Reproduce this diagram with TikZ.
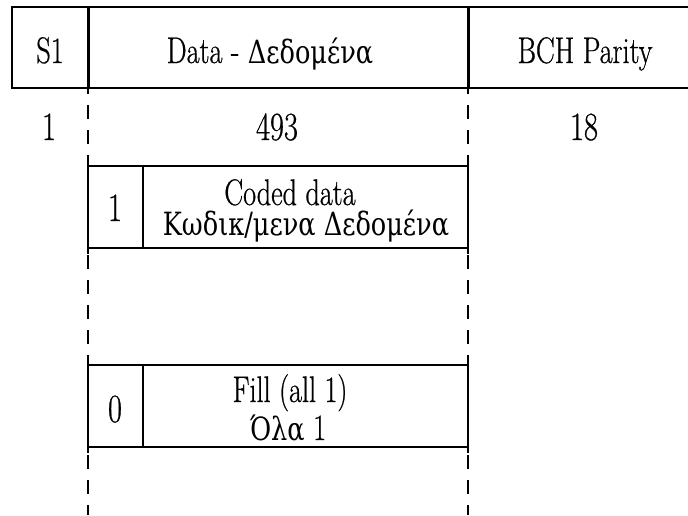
\documentclass[tikz,border=0pt]{standalone}
\usepackage{fontspec}
\setmainfont{Latin Modern Roman}[FakeStretch=0.76, FakeBold=0.6]
\newfontfamily\greekfont{DejaVu Serif}[FakeStretch=0.8]

\tikzset{
  cell/.style={draw, line width=2pt, inner sep=0pt, outer sep=0pt, anchor=north west},
  divider/.style={line width=3pt},
  side/.style={line width=2pt},
  dashline/.style={line width=2pt, dash pattern=on 14pt off 11pt, dash phase=8pt},
  lbl/.style={inner sep=0pt, anchor=base, font=\fontsize{37}{37}\selectfont},
  num/.style={inner sep=0pt, anchor=base, font=\fontsize{40}{40}\selectfont},
  gr/.style={font=\fontsize{32}{32}\selectfont\greekfont}
}

\begin{document}
\begin{tikzpicture}[x=1pt, y=-1pt]
\useasboundingbox (0,0) rectangle (688,515);

% frame header
\node[cell, minimum width=76pt,  minimum height=81pt] (s1)   at (12,7)  {};
\node[cell, minimum width=380pt, minimum height=81pt] (data) at (88,7)  {};
\node[cell, minimum width=226pt, minimum height=81pt] (bch)  at (468,7) {};
\draw[divider] (data.north west) -- (data.south west);
\draw[divider] (bch.north west) -- (bch.south west);

\node[lbl] (s1txt)   at (50,63)  {S1};
\node[lbl] (datatxt) at (270,63) {Data - {\fontsize{32}{32}\selectfont\greekfont Δεδομένα}};
\node[lbl] (bchtxt)  at (585,63) {BCH Parity};

% field lengths
\node[num] (n1)   at (49,140)  {1};
\node[num] (n493) at (277,140) {493};
\node[num] (n18)  at (584,140) {18};

% extent of the data field
\coordinate (endL) at (88,515);
\coordinate (endR) at (468,515);
\draw[dashline] (data.south west) -- (endL);
\draw[dashline] (data.south east) -- (endR);

% coded data block
\node[cell, minimum width=55pt,  minimum height=82pt, fill=white] (c1) at (88,166)  {};
\node[cell, minimum width=325pt, minimum height=82pt, fill=white] (c2) at (143,166) {};
\draw[side] ([yshift=5pt]c1.north west) -- ([yshift=-6pt]c1.south west);
\draw[side] ([yshift=5pt]c2.north east) -- ([yshift=-6pt]c2.south east);
\node[num] (c1txt) at (115,221) {1};
\node[lbl] (cdEn) at (290,205) {Coded data};
\node[lbl, gr] (cdGr) at (306,235) {Κωδικ/μενα Δεδομένα};

% fill block
\node[cell, minimum width=55pt,  minimum height=82pt, fill=white] (f1) at (88,365)  {};
\node[cell, minimum width=325pt, minimum height=82pt, fill=white] (f2) at (143,365) {};
\draw[side] ([yshift=5pt]f1.north west) -- ([yshift=-6pt]f1.south west);
\draw[side] ([yshift=5pt]f2.north east) -- ([yshift=-6pt]f2.south east);
\node[num] (f1txt) at (115,422) {0};
\node[lbl] (flEn) at (290,402) {Fill (all 1)};
\node[lbl] (flGr) at (288,440) {{\fontsize{32}{32}\selectfont\greekfont Όλα} 1};
\end{tikzpicture}
\end{document}
